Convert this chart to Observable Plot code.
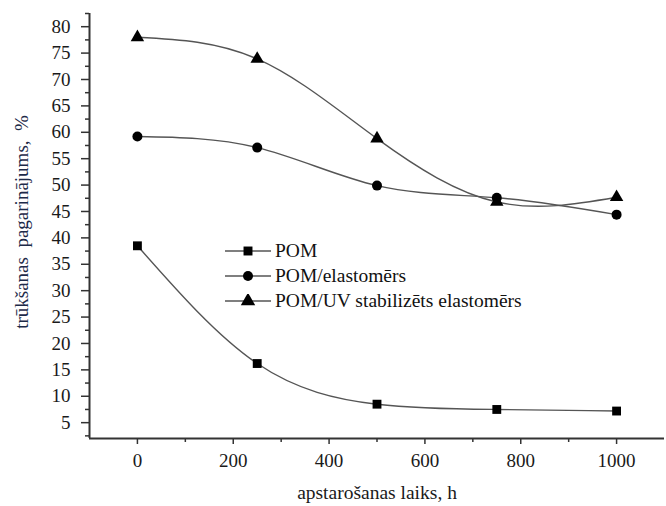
<!DOCTYPE html>
<html>
<head>
<meta charset="utf-8">
<script src="https://cdn.jsdelivr.net/npm/d3@7"></script>
<script src="https://cdn.jsdelivr.net/npm/@observablehq/plot@0.6"></script>
<style>
  html, body { margin: 0; padding: 0; background: #fff; }
  #wrap { position: relative; width: 666px; height: 506px; font-family: "Liberation Serif", serif; }
  #legend { position: absolute; left: 225px; top: 239px; font-size: 19.5px; color: #111; font-family: "Liberation Serif", serif; }
  .row { display: flex; align-items: center; height: 24.7px; }
  .row svg { margin-right: 2px; }
</style>
</head>
<body>
<div id="wrap"></div>
<script>
// ---- data ----
const hours = [0, 250, 500, 750, 1000];
const seriesNames = ["POM", "POM/elastomērs", "POM/UV stabilizēts elastomērs"];
const pom = [38.5, 16.2, 8.5, 7.5, 7.2];
const pomElast = [59.2, 57.1, 49.9, 47.6, 44.4];
const pomUV = [78.0, 73.9, 58.8, 46.8, 47.7];
const xTicks = [0, 200, 400, 600, 800, 1000];
const xMinor = [100, 300, 500, 700, 900];
const yTicks = [5, 10, 15, 20, 25, 30, 35, 40, 45, 50, 55, 60, 65, 70, 75, 80];
const yMinor = [2.5, 7.5, 12.5, 17.5, 22.5, 27.5, 32.5, 37.5, 42.5, 47.5, 52.5, 57.5, 62.5, 67.5, 72.5, 77.5, 82.5];
const xDomain = [-100, 1100];
const yDomain = [2, 82.5];
const xLabel = "apstarošanas laiks, h";
const yLabel = "trūkšanas  pagarinājums,  %";

const symbols = ["square", "circle", "triangle"];
const valuesBySeries = [pom, pomElast, pomUV];
const data = [];
valuesBySeries.forEach((vals, i) => vals.forEach((v, j) => data.push({series: seriesNames[i], x: hours[j], y: v})));

const axisColor = "#333";
const textColor = "#1a1a1a";
const serif = "Liberation Serif";

const chart = Plot.plot({
  width: 666,
  height: 506,
  marginLeft: 89,
  marginRight: 2,
  marginTop: 13,
  marginBottom: 68,
  style: {fontFamily: serif, fontSize: "18px", color: textColor, background: "#fff"},
  x: {domain: xDomain},
  y: {domain: yDomain},
  symbol: {domain: seriesNames, range: symbols},
  marks: [
    Plot.axisX({ticks: xTicks, tickSize: 6, tickPadding: 9, tickFormat: d => String(d), stroke: axisColor, strokeWidth: 1.5, fontSize: 19, fontFamily: serif, fill: textColor, label: null}),
    Plot.axisX({ticks: xMinor, tickSize: 4, tickFormat: () => "", stroke: axisColor, strokeWidth: 1.5, label: null}),
    Plot.axisY({ticks: yTicks, tickSize: 8, tickPadding: 11, stroke: axisColor, strokeWidth: 1.5, fontSize: 19, fontFamily: serif, fill: textColor, label: null}),
    Plot.axisY({ticks: yMinor, tickSize: 4, tickFormat: () => "", stroke: axisColor, strokeWidth: 1.5, label: null}),
    Plot.ruleX([xDomain[0]], {stroke: axisColor, strokeWidth: 2}),
    Plot.ruleY([yDomain[0]], {stroke: axisColor, strokeWidth: 2}),
    Plot.text([xLabel], {frameAnchor: "bottom", dy: 60, fontSize: 19.5, fontFamily: serif, fill: textColor}),
    Plot.text([yLabel], {frameAnchor: "left", textAnchor: "middle", dx: -68, dy: -4, rotate: -90, fontSize: 19, fontFamily: serif, fill: "#1d2a48"}),
    Plot.line(data, {x: "x", y: "y", z: "series", curve: "natural", stroke: "#555", strokeWidth: 1.4}),
    Plot.dot(data, {x: "x", y: "y", symbol: "series", fill: "#000", stroke: "none", r: 5})
  ]
});
d3.select(chart).selectAll("text").style("font-family", "'Liberation Serif', serif");
const wrap = document.getElementById("wrap");
wrap.appendChild(chart);

// legend (HTML overlay)
const legend = document.createElement("div");
legend.id = "legend";
const symGen = {square: d3.symbolSquare, circle: d3.symbolCircle, triangle: d3.symbolTriangle};
const symSize = {square: 80, circle: 78, triangle: 90};
seriesNames.forEach((name, i) => {
  const row = document.createElement("div");
  row.className = "row";
  const s = d3.create("svg").attr("width", 48).attr("height", 14);
  s.append("line").attr("x1", 0).attr("x2", 46).attr("y1", 7).attr("y2", 7).attr("stroke", "#555").attr("stroke-width", 1.4);
  s.append("path").attr("transform", "translate(23,7)").attr("d", d3.symbol(symGen[symbols[i]], symSize[symbols[i]])()).attr("fill", "#000");
  row.appendChild(s.node());
  const t = document.createElement("span");
  t.textContent = name;
  row.appendChild(t);
  legend.appendChild(row);
});
wrap.appendChild(legend);
</script>
</body>
</html>
